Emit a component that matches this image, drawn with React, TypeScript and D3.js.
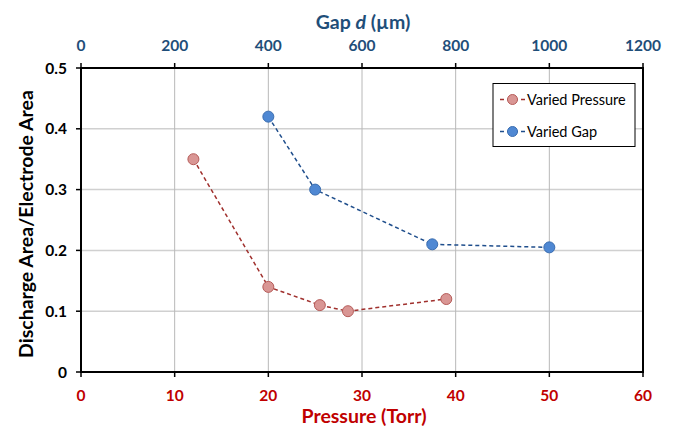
import React from "react";
import * as d3 from "d3";

const pressureTicks = [0, 10, 20, 30, 40, 50, 60];
const gapTicks = [0, 200, 400, 600, 800, 1000, 1200];
const yTicks = [0, 0.1, 0.2, 0.3, 0.4, 0.5];

const pressureX = [12, 20, 25.5, 28.5, 39];
const pressureY = [0.35, 0.14, 0.11, 0.1, 0.12];

const gapX = [400, 500, 750, 1000];
const gapY = [0.42, 0.3, 0.21, 0.205];

const W = 677;
const H = 427;
const M = { left: 81, right: 643, top: 68, bottom: 372 };
const FONT = "Lato, 'Open Sans', sans-serif";

export default function App() {
  const x = d3.scaleLinear().domain([0, 60]).range([M.left, M.right]);
  const xg = d3.scaleLinear().domain([0, 1200]).range([M.left, M.right]);
  const y = d3.scaleLinear().domain([0, 0.5]).range([M.bottom, M.top]);

  const redPts = pressureX.map((p, i) => [x(p), y(pressureY[i])] as [number, number]);
  const bluePts = gapX.map((g, i) => [xg(g), y(gapY[i])] as [number, number]);
  const line = d3.line<[number, number]>();

  const red = { fill: "#d99694", stroke: "#b65c59", line: "#a0302d" };
  const blue = { fill: "#4f88d3", stroke: "#3a6db0", line: "#1f4e8c" };

  return (
    <svg
      width={W}
      height={H}
      style={{ position: "fixed", left: 0, top: 0, background: "#fff" }}
      fontFamily={FONT}
    >
      {/* gridlines */}
      {yTicks.slice(1, -1).map((t) => (
        <line key={"hy" + t} x1={M.left} x2={M.right} y1={y(t)} y2={y(t)} stroke="#d0d0d0" strokeWidth={1.5} />
      ))}
      {pressureTicks.slice(1, -1).map((t) => (
        <line key={"vx" + t} x1={x(t)} x2={x(t)} y1={M.top} y2={M.bottom} stroke="#b8b8b8" strokeWidth={1} />
      ))}

      {/* frame */}
      <rect x={M.left} y={M.top} width={M.right - M.left} height={M.bottom - M.top} fill="none" stroke="#000" strokeWidth={2} />

      {/* ticks */}
      {pressureTicks.map((t) => (
        <line key={"bt" + t} x1={x(t)} x2={x(t)} y1={M.bottom - 1} y2={M.bottom + 5} stroke="#000" strokeWidth={1.5} />
      ))}
      {gapTicks.map((t) => (
        <line key={"tt" + t} x1={xg(t)} x2={xg(t)} y1={M.top - 5} y2={M.top + 1} stroke="#000" strokeWidth={1.5} />
      ))}
      {yTicks.map((t) => (
        <line key={"yt" + t} x1={M.left - 5} x2={M.left} y1={y(t)} y2={y(t)} stroke="#000" strokeWidth={1.5} />
      ))}

      {/* tick labels */}
      {pressureTicks.map((t) => (
        <text key={"bl" + t} x={x(t)} y={401} textAnchor="middle" fontSize={15.5} fontWeight="bold" fill="#c00000">
          {t}
        </text>
      ))}
      {gapTicks.map((t) => (
        <text key={"tl" + t} x={xg(t)} y={51} textAnchor="middle" fontSize={15.5} fontWeight="bold" fill="#1f4e79">
          {t}
        </text>
      ))}
      {yTicks.map((t) => (
        <text key={"yl" + t} x={67} y={y(t)} dy="0.36em" textAnchor="end" fontSize={15.5} fontWeight="bold" fill="#000">
          {t === 0 ? "0" : d3.format(".1f")(t)}
        </text>
      ))}

      {/* axis titles */}
      <text x={364} y={423} textAnchor="middle" fontSize={19.5} fontWeight="bold" fill="#c00000">
        Pressure (Torr)
      </text>
      <text x={363} y={29} textAnchor="middle" fontSize={19.5} fontWeight="bold" fill="#1f4e79">
        Gap <tspan fontStyle="italic">d</tspan> (µm)
      </text>
      <text
        transform={`translate(33, 224) rotate(-90)`}
        textAnchor="middle"
        fontSize={19.5}
        fontWeight="bold"
        fill="#000"
      >
        Discharge Area/Electrode Area
      </text>

      {/* series */}
      <path d={line(redPts) || ""} fill="none" stroke={red.line} strokeWidth={1.5} strokeDasharray="4,3" />
      <path d={line(bluePts) || ""} fill="none" stroke={blue.line} strokeWidth={1.5} strokeDasharray="4,3" />
      {redPts.map(([cx, cy], i) => (
        <circle key={"r" + i} cx={cx} cy={cy} r={5.5} fill={red.fill} stroke={red.stroke} strokeWidth={1} />
      ))}
      {bluePts.map(([cx, cy], i) => (
        <circle key={"b" + i} cx={cx} cy={cy} r={5.5} fill={blue.fill} stroke={blue.stroke} strokeWidth={1} />
      ))}

      {/* legend */}
      <rect x={493} y={83.5} width={142} height={63} fill="#fff" stroke="#000" strokeWidth={1} />
      {[
        { label: "Varied Pressure", c: red, yy: 99.5 },
        { label: "Varied Gap", c: blue, yy: 131.5 },
      ].map((e) => (
        <g key={e.label}>
          <line x1={500} x2={525} y1={e.yy} y2={e.yy} stroke={e.c.line} strokeWidth={1.5} strokeDasharray="4,3" />
          <circle cx={512.5} cy={e.yy} r={5} fill={e.c.fill} stroke={e.c.stroke} strokeWidth={1} />
          <text x={527} y={e.yy} dy="0.36em" fontSize={14.5} fill="#000">
            {e.label}
          </text>
        </g>
      ))}
    </svg>
  );
}
